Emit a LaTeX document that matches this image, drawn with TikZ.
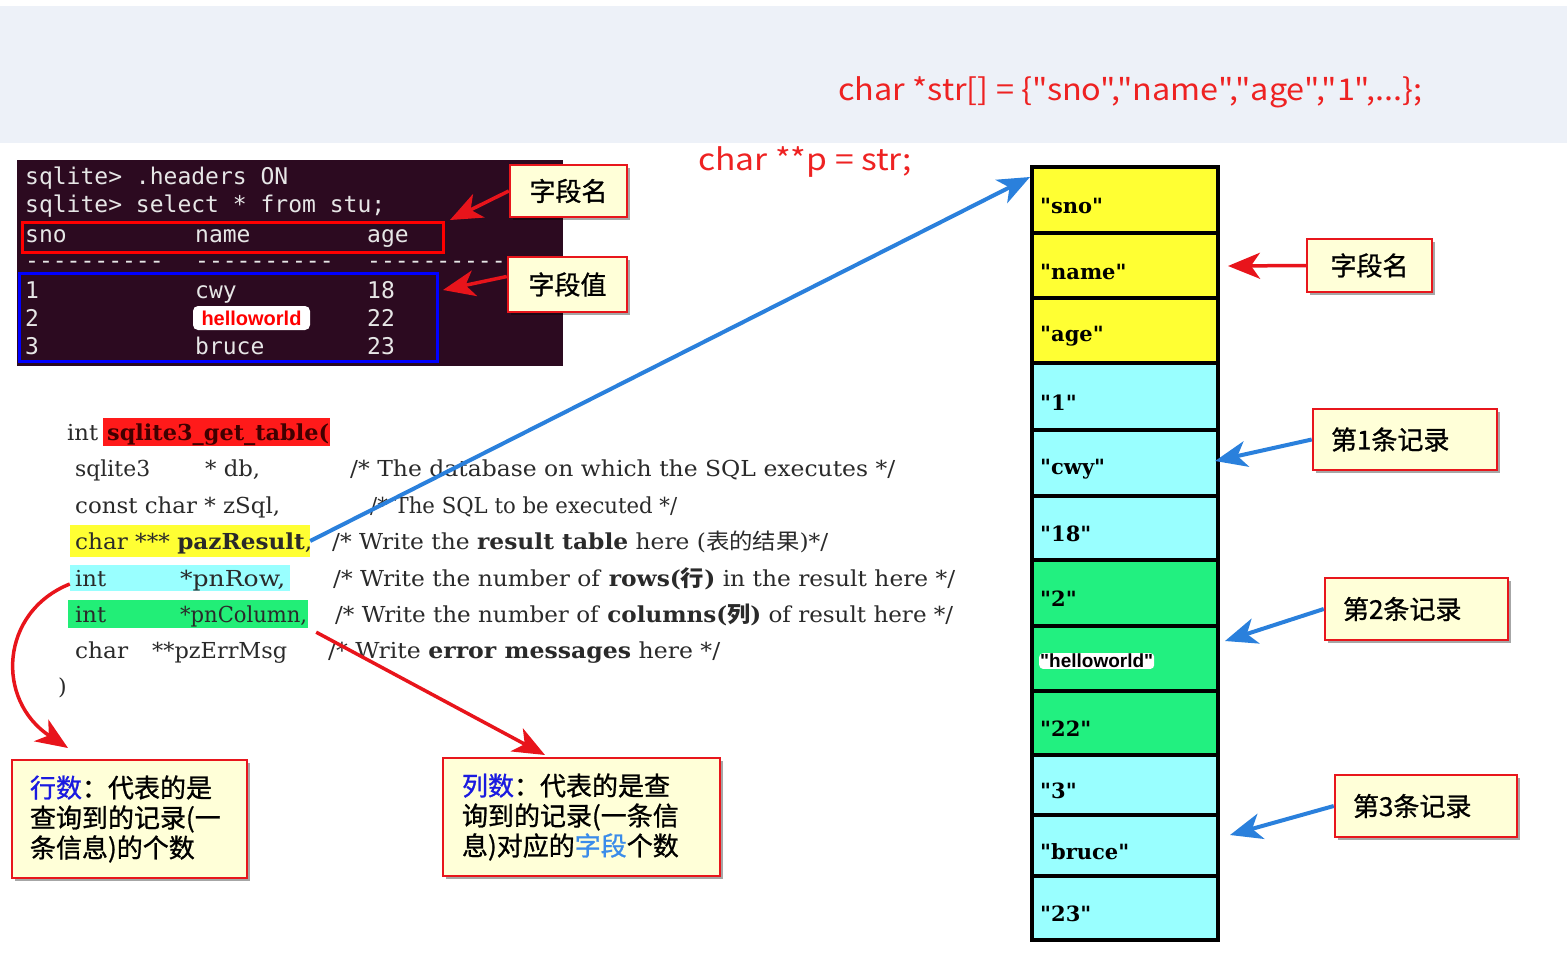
\documentclass[tikz,border=0pt]{standalone}
\usepackage{fontspec}
\usepackage{graphicx}
\usetikzlibrary{arrows.meta,shadows}
\newfontfamily\cjk{Noto Sans CJK SC}
\newfontfamily\cjkm[FakeBold=1]{Noto Sans CJK SC}
\newfontfamily\mono[Ligatures=TeXOff]{DejaVu Sans Mono}
\newfontfamily\lsans{Liberation Sans}
\newfontfamily\serif[Ligatures=TeXOff]{DejaVu Serif}
\newcommand\hfit[2]{\resizebox{#1}{\height}{#2}}
\definecolor{topband}{HTML}{EDF1F8}
\definecolor{termbg}{HTML}{2C0A20}
\definecolor{termfg}{HTML}{E6E6E6}
\definecolor{boxred}{HTML}{E8161C}
\definecolor{boxfill}{HTML}{FFFFD8}
\definecolor{arrred}{HTML}{E8141B}
\definecolor{arrblue}{HTML}{2A80DC}
\definecolor{codered}{HTML}{EE2222}
\definecolor{cellY}{HTML}{FFFF33}
\definecolor{cellC}{HTML}{99FFFF}
\definecolor{cellG}{HTML}{22F080}
\definecolor{hlY}{HTML}{FFFF33}
\definecolor{hlC}{HTML}{99FFFF}
\definecolor{hlG}{HTML}{22EE77}
\definecolor{hlR}{HTML}{FF1A1A}
\definecolor{codetext}{HTML}{2A2A2A}
\definecolor{textblue}{HTML}{1A1AE0}
\definecolor{lightblue}{HTML}{3A8CEA}
\begin{document}
\begin{tikzpicture}[x=1pt,y=-1pt,
  lbox/.style={draw=boxred, line width=2.5pt, fill=boxfill,
    drop shadow={shadow xshift=3pt,shadow yshift=-3pt,opacity=.35,fill=black},
    font=\cjkm\fontsize{26}{30}\selectfont, inner sep=0pt},
  redarr/.style={draw=arrred, line width=3.5pt, -{Stealth[length=32pt,width=26pt,inset=9pt]}},
  bluearr/.style={draw=arrblue, line width=4pt, -{Stealth[length=32pt,width=26pt,inset=9pt]}},
  termtxt/.style={anchor=base west, inner sep=0pt, text=termfg, font=\mono\fontsize{23}{26}\selectfont},
  code/.style={anchor=base west, inner sep=0pt, text=codetext, font=\serif\fontsize{22}{26}\selectfont},
  hl/.style={inner sep=0pt, draw=none},
  cell/.style={draw=black, line width=3.5pt, minimum width=186pt, inner sep=0pt},
  celltxt/.style={anchor=west, inner sep=0pt, font=\serif\bfseries\fontsize{21}{25}\selectfont}]
\useasboundingbox (0,0) rectangle (1567,953);
\fill[white] (0,0) rectangle (1567,953);
\fill[topband] (0,6) rectangle (1567,143);

% top red declarations
\node[anchor=base west, inner sep=0pt, text=codered, font=\cjk\fontsize{30}{34}\selectfont] (strdecl) at (838,100) {\hfit{584pt}{char *str[] = \{"sno","name","age","1",...\};}};
\node[anchor=base west, inner sep=0pt, text=codered, font=\cjk\fontsize{30}{34}\selectfont] (pdecl) at (698,170) {\hfit{214pt}{char **p = str;}};

% terminal
\node[fill=termbg, minimum width=546pt, minimum height=206pt, inner sep=0pt] (term) at (290,263) {};
\node[termtxt] (tl1) at (25,184) {sqlite> .headers ON};
\node[termtxt] (tl2) at (25,212) {sqlite> select * from stu;};
\node[termtxt] (h1) at (25,242) {sno};
\node[termtxt] (h2) at (195,242) {name};
\node[termtxt] (h3) at (367,242) {age};
\node[termtxt] (d1) at (25,268) {----------};
\node[termtxt] (d2) at (195,268) {----------};
\node[termtxt] (d3) at (367,268) {----------};
\node[termtxt] (r11) at (25,298) {1};
\node[termtxt] (r12) at (195,298) {cwy};
\node[termtxt] (r13) at (367,298) {18};
\node[termtxt] (r21) at (25,326) {2};
\node[fill=white, rounded corners=5pt, minimum width=117pt, minimum height=24pt, inner sep=0pt,
  text=red, font=\lsans\bfseries\fontsize{20}{22}\selectfont] (hw) at (251.5,318) {helloworld};
\node[termtxt] (r23) at (367,326) {22};
\node[termtxt] (r31) at (25,354) {3};
\node[termtxt] (r32) at (195,354) {bruce};
\node[termtxt] (r33) at (367,354) {23};
\node[draw=red, line width=3pt, minimum width=421pt, minimum height=30pt, inner sep=0pt] (hdrbox) at (232.5,237) {};
\node[draw=blue, line width=3pt, minimum width=418pt, minimum height=88pt, inner sep=0pt] (valbox) at (228,317) {};

\node[lbox, minimum width=117pt, minimum height=52pt] (lb1) at (568.5,191) {字段名};
\node[lbox, minimum width=119pt, minimum height=55pt] (lb2) at (567.5,284.5) {字段值};
\coordinate (tipH) at (450,220);
\coordinate (tipV) at (443,290);
\draw[redarr] (lb1.west) -- (tipH);
\draw[redarr] ([yshift=8pt]lb2.west) -- (tipV);

% code
\node[hl, fill=hlR, minimum width=227pt, minimum height=28pt] (fnbox) at (216.5,432) {};
\node[hl, fill=hlY, minimum width=240pt, minimum height=32pt] (pzbox) at (190,541) {};
\node[hl, fill=hlC, minimum width=220pt, minimum height=26pt] (rowbox) at (180,578) {};
\node[hl, fill=hlG, minimum width=240pt, minimum height=28pt] (colbox) at (188,614) {};

\node[code] (k1) at (67,440) {\hfit{31pt}{int}};
\node[code, text=black!75!red] (k1b) at (107,440) {\hfit{222pt}{\bfseries sqlite3\_get\_table(}};
\node[code] (k2a) at (75,476) {\hfit{75pt}{sqlite3}};
\node[code] (k2b) at (205,476) {\hfit{55pt}{* db,}};
\node[code] (k2c) at (350,476) {\hfit{545pt}{/* The database on which the SQL executes */}};
\node[code] (k3a) at (75,513) {\hfit{205pt}{const char * zSql,}};
\node[code] (k3c) at (370,513) {\hfit{307pt}{/* The SQL to be executed */}};
\node[code] (k4a) at (75,549) {\hfit{237pt}{char *** \textbf{pazResult},}};
\node[code] (k4c) at (332,549) {\hfit{496pt}{/* Write the \textbf{result table} here ({\cjk 表的结果})*/}};
\node[code] (k5a) at (75,586) {\hfit{31pt}{int}};
\node[code] (k5b) at (180,586) {\hfit{105pt}{*pnRow,}};
\node[code] (k5c) at (333,586) {\hfit{622pt}{/* Write the number of \textbf{rows({\cjk 行})} in the result here */}};
\node[code] (k6a) at (75,622) {\hfit{31pt}{int}};
\node[code] (k6b) at (180,622) {\hfit{127pt}{*pnColumn,}};
\node[code] (k6c) at (335,622) {\hfit{618pt}{/* Write the number of \textbf{columns({\cjk 列})} of result here */}};
\node[code] (k7a) at (75,658) {\hfit{53pt}{char}};
\node[code] (k7b) at (152,658) {\hfit{135pt}{**pzErrMsg}};
\node[code] (k7c) at (328,658) {\hfit{392pt}{/* Write \textbf{error messages} here */}};
\node[code] (k8) at (58,694) {)};

% right column
\foreach \i/\t/\b/\col/\txt in {1/167/233/cellY/"sno",2/233/298/cellY/"name",3/298/363/cellY/"age",
  4/363/430/cellC/"1",5/430/496/cellC/"cwy",6/496/560/cellC/"18",
  7/560/626/cellG/"2",8/626/691/cellG/{},9/691/755/cellG/"22",
  10/755/815/cellC/"3",11/815/876/cellC/"bruce",12/876/940/cellC/"23"}{
  \node[cell, fill=\col, minimum height={\b-\t}] (c\i) at (1125,{(\t+\b)/2}) {};
  \node[celltxt] (t\i) at (1040,{(\t+\b)/2+6}) {\txt};
}
\node[fill=white, rounded corners=4pt, inner sep=1pt, anchor=west,
  font=\lsans\bfseries\fontsize{19}{21}\selectfont] (t8hw) at (1039,661) {"helloworld"};

% bottom boxes
\node[lbox, text width=199pt, inner xsep=18pt, minimum height=118pt, align=left] (bb1) at (129.5,819)
  {{\color{textblue}行数}：代表的是\\查询到的记录(一\\条信息)的个数};
\node[lbox, text width=239pt, inner xsep=19pt, minimum height=118pt, align=left] (bb2) at (581.5,817)
  {{\color{textblue}列数}：代表的是查\\询到的记录(一条信\\息)对应的{\color{lightblue}字段}个数};

% right labels
\node[lbox, minimum width=125pt, minimum height=53pt] (rf) at (1369.5,265.5) {字段名};
\node[lbox, text width=148pt, inner xsep=18pt, minimum height=61pt, align=left] (rl1) at (1405,439.5) {第1条记录};
\node[lbox, text width=147pt, inner xsep=18pt, minimum height=62pt, align=left] (rl2) at (1416.5,609) {第2条记录};
\node[lbox, text width=146pt, inner xsep=18pt, minimum height=62pt, align=left] (rl3) at (1426,806) {第3条记录};

% arrows
\coordinate (tipP) at (1030,177);
\coordinate (tipR) at (68,748);
\coordinate (tipC) at (545,755);
\coordinate (tipF) at (1228,266);
\coordinate (tip1) at (1215,461);
\coordinate (tip2) at (1225,641);
\coordinate (tip3) at (1230,835);
\draw[bluearr] (pzbox.east) -- (tipP);
\draw[redarr] ([yshift=-6pt]rowbox.west) .. controls (0,612) and (-5,700) .. (tipR);
\draw[redarr] ([xshift=8pt,yshift=-4pt]colbox.south east) -- (tipC);
\draw[redarr] (rf.west) -- (tipF);
\draw[bluearr] (rl1.west) -- (tip1);
\draw[bluearr] (rl2.west) -- (tip2);
\draw[bluearr] (rl3.west) -- (tip3);
\end{tikzpicture}
\end{document}
